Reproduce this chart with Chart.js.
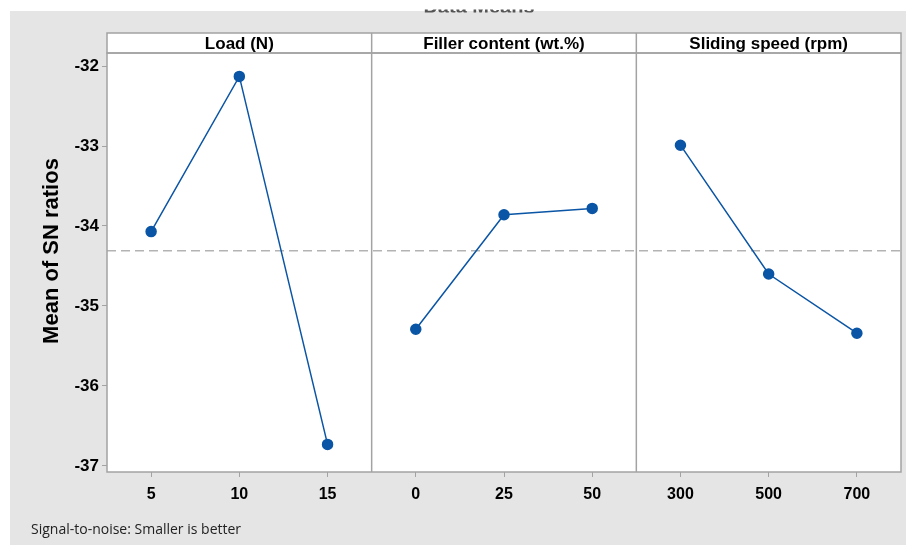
<!DOCTYPE html>
<html>
<head>
<meta charset="utf-8">
<script src="https://cdn.jsdelivr.net/npm/chart.js@4.4.1/dist/chart.umd.min.js"></script>
<style>
  html, body { margin: 0; padding: 0; background: #ffffff; }
  canvas { display: block; }
</style>
</head>
<body>
<canvas id="c" width="908" height="547"></canvas>
<script>
// ---- Data ----
const panelTitles = ['Load (N)', 'Filler content (wt.%)', 'Sliding speed (rpm)'];
const loadLevels = ['5', '10', '15'];
const loadMeans = [-34.07, -32.13, -36.73];
const fillerLevels = ['0', '25', '50'];
const fillerMeans = [-35.29, -33.86, -33.78];
const speedLevels = ['300', '500', '700'];
const speedMeans = [-32.99, -34.60, -35.34];
const overallMean = -34.31;
const yTickValues = [-37, -36, -35, -34, -33, -32];
const yAxisTitle = 'Mean of SN ratios';
const subTitle = 'Data Means';
const footNote = 'Signal-to-noise: Smaller is better';

// ---- Build library structures ----
const labels = [...loadLevels, ...fillerLevels, ...speedLevels];
const groups = [loadMeans, fillerMeans, speedMeans];
const pad = (arr, idx) => {
  const out = new Array(labels.length).fill(null);
  arr.forEach((v, i) => { out[idx * 3 + i] = v; });
  return out;
};
const BLUE = '#0a55a5';
const datasets = groups.map((g, i) => ({
  label: panelTitles[i],
  data: pad(g, i),
  borderColor: BLUE,
  backgroundColor: BLUE,
  borderWidth: 1.5,
  pointRadius: 5,
  pointHoverRadius: 5,
  pointBackgroundColor: BLUE,
  pointBorderColor: BLUE,
  spanGaps: false,
  tension: 0
}));

const FRAME = '#a3a3a3';

const decorPlugin = {
  id: 'decor',
  beforeDraw(chart) {
    const { ctx, chartArea: a } = chart;
    ctx.save();
    ctx.fillStyle = '#e5e5e5';
    ctx.fillRect(10, 11, 896, 534);
    ctx.fillStyle = '#ffffff';
    ctx.fillRect(a.left, a.top, a.right - a.left, a.bottom - a.top);
    // subtitle, cut off at the top of the picture as in the reference
    ctx.beginPath();
    ctx.rect(0, 9.5, 908, 3);
    ctx.clip();
    ctx.fillStyle = '#555';
    ctx.font = 'bold 20px "Liberation Sans", Arial, sans-serif';
    ctx.textAlign = 'center';
    ctx.textBaseline = 'alphabetic';
    ctx.fillText(subTitle, 479, 12.5);
    ctx.restore();
  },
  beforeDatasetsDraw(chart) {
    const { ctx, chartArea: a, scales } = chart;
    const y = scales.y.getPixelForValue(overallMean);
    ctx.save();
    ctx.strokeStyle = '#b3b3b3';
    ctx.lineWidth = 1.6;
    ctx.setLineDash([9, 5]);
    ctx.beginPath();
    ctx.moveTo(a.left, y);
    ctx.lineTo(a.right, y);
    ctx.stroke();
    ctx.restore();
  },
  afterDraw(chart) {
    const { ctx, chartArea: a, scales } = chart;
    const x = scales.x;
    const stripTop = 33;
    ctx.save();
    // header strip
    ctx.fillStyle = '#ffffff';
    ctx.fillRect(a.left, stripTop, a.right - a.left, a.top - stripTop);
    ctx.strokeStyle = FRAME;
    ctx.lineWidth = 1.5;
    ctx.strokeRect(a.left, stripTop, a.right - a.left, a.top - stripTop);
    // plot frame
    ctx.strokeRect(a.left, a.top, a.right - a.left, a.bottom - a.top);
    // panel dividers
    const bounds = [a.left];
    for (let p = 1; p < 3; p++) {
      const xb = (x.getPixelForValue(p * 3 - 1) + x.getPixelForValue(p * 3)) / 2;
      bounds.push(xb);
      ctx.beginPath();
      ctx.moveTo(xb, stripTop);
      ctx.lineTo(xb, a.bottom);
      ctx.stroke();
    }
    bounds.push(a.right);
    // panel titles
    ctx.fillStyle = '#000';
    ctx.font = 'bold 17px "Liberation Sans", Arial, sans-serif';
    ctx.textAlign = 'center';
    ctx.textBaseline = 'middle';
    for (let p = 0; p < 3; p++) {
      ctx.fillText(panelTitles[p], (bounds[p] + bounds[p + 1]) / 2, (stripTop + a.top) / 2 + 1);
    }
    // y axis title
    ctx.save();
    ctx.translate(52, 251);
    ctx.rotate(-Math.PI / 2);
    ctx.font = 'bold 22px "Liberation Sans", Arial, sans-serif';
    ctx.fillText(yAxisTitle, 0, 0);
    ctx.restore();
    // footnote
    ctx.textAlign = 'left';
    ctx.font = '14px "Open Sans", sans-serif';
    ctx.fillStyle = '#222';
    ctx.fillText(footNote, 31, 530);
    ctx.restore();
  }
};

new Chart(document.getElementById('c'), {
  type: 'line',
  data: { labels, datasets },
  options: {
    responsive: false,
    animation: false,
    events: [],
    layout: { padding: { left: 0, top: 53, right: 7, bottom: 0 } },
    plugins: { legend: { display: false }, tooltip: { enabled: false } },
    scales: {
      x: {
        type: 'category',
        offset: true,
        grid: { offset: false, drawOnChartArea: false, drawTicks: true, tickLength: 5, color: FRAME, lineWidth: 1 },
        border: { display: false },
        ticks: {
          autoSkip: false, maxRotation: 0, padding: 8, color: '#000',
          font: { family: '"Liberation Sans", Arial, sans-serif', size: 16, weight: 'bold' }
        },
        afterFit(s) { s.height = 75; }
      },
      y: {
        min: -37.075,
        max: -31.8375,
        afterBuildTicks(s) { s.ticks = yTickValues.map(v => ({ value: v })); },
        grid: { drawOnChartArea: false, drawTicks: true, tickLength: 5, color: FRAME, lineWidth: 1 },
        border: { display: false },
        ticks: {
          padding: 3, color: '#000',
          font: { family: '"Liberation Sans", Arial, sans-serif', size: 17, weight: 'bold' }
        },
        afterFit(s) { s.width = 107; }
      }
    }
  },
  plugins: [decorPlugin]
});
</script>
</body>
</html>
